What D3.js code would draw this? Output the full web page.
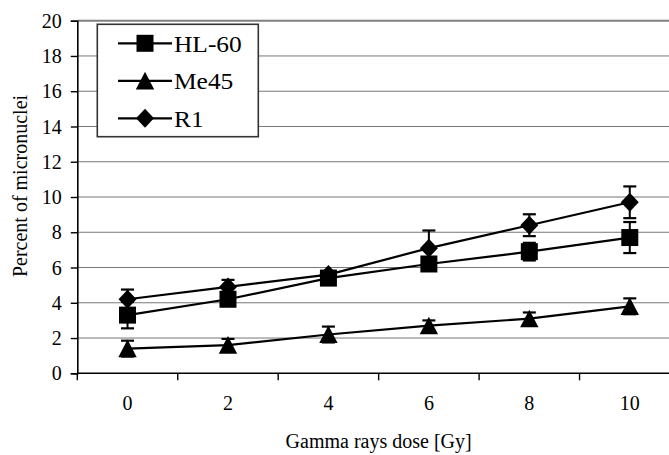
<!DOCTYPE html>
<html>
<head>
<meta charset="utf-8">
<script src="https://cdn.jsdelivr.net/npm/d3@7"></script>
<style>
  html, body { margin: 0; padding: 0; background: #fff; }
  svg text { font-family: "Liberation Serif", "Times New Roman", "DejaVu Serif", serif; }
</style>
</head>
<body>
<svg id="chart" width="669" height="455"></svg>
<script>
// doses on the x axis, one band each
var doses = ["0", "2", "4", "6", "8", "10"];
var yTicks = [0, 2, 4, 6, 8, 10, 12, 14, 16, 18, 20];

// percent of micronuclei
var hl60 = [3.3, 4.2, 5.4, 6.2, 6.9, 7.7];
var hl60Err = [0.75, 0.3, 0.2, 0.2, 0.5, 0.88];
var me45 = [1.4, 1.6, 2.2, 2.7, 3.1, 3.8];
var me45Err = [0.45, 0.35, 0.45, 0.3, 0.35, 0.45];
var r1 = [4.2, 4.9, 5.6, 7.1, 8.4, 9.7];
var r1Err = [0.55, 0.4, 0.2, 1.0, 0.62, 0.9];

var seriesNames = ["HL-60", "Me45", "R1"];

var series = [
  {name: seriesNames[0], vals: hl60, err: hl60Err, shape: "square"},
  {name: seriesNames[1], vals: me45, err: me45Err, shape: "triangle"},
  {name: seriesNames[2], vals: r1, err: r1Err, shape: "diamond"}
];

var FONT = "Liberation Serif, Times New Roman, DejaVu Serif, serif";
var svg = d3.select("#chart");
var plotLeft = 77.3, plotRight = 680, plotTop = 20.7, plotBottom = 373.3;

var x = d3.scaleBand().domain(doses).range([plotLeft, plotRight]).padding(0);
var y = d3.scaleLinear().domain([0, 20]).range([plotBottom, plotTop]);

// marker path for a shape centred on 0,0
function marker(shape) {
  if (shape === "square") return "M-8.5,-8.5H8.5V8.5H-8.5Z";
  if (shape === "triangle") return "M0,-9L9.2,8.6H-9.2Z";
  return "M0,-9.5L9,0L0,9.5L-9,0Z";
}

// gridlines
svg.append("g").selectAll("line.grid")
  .data(yTicks.filter(function(d){ return d > 0 && d < 20; })).enter()
  .append("line").attr("class", "grid")
  .attr("x1", plotLeft).attr("x2", plotRight)
  .attr("y1", function(d){ return y(d); }).attr("y2", function(d){ return y(d); })
  .attr("stroke", "#777").attr("stroke-width", 1);

// top border of the plot
svg.append("line").attr("x1", plotLeft).attr("x2", plotRight)
  .attr("y1", y(20)).attr("y2", y(20))
  .attr("stroke", "#808080").attr("stroke-width", 2);

// y axis
var yAxis = svg.append("g").attr("transform", "translate(" + plotLeft + ",0)")
  .call(d3.axisLeft(y).tickValues(yTicks).tickSize(6.5).tickPadding(9));
yAxis.attr("font-family", FONT);
yAxis.select(".domain").attr("stroke", "#000").attr("stroke-width", 1.6);
yAxis.selectAll(".tick line").attr("stroke", "#000").attr("stroke-width", 1.4);
yAxis.selectAll(".tick text").attr("font-size", 20).attr("font-family", FONT)
  .attr("fill", "#000").attr("dy", "0.33em");

// x axis: line plus ticks on band edges
var xg = svg.append("g");
xg.append("line").attr("x1", plotLeft).attr("x2", plotRight)
  .attr("y1", plotBottom).attr("y2", plotBottom)
  .attr("stroke", "#000").attr("stroke-width", 1.6);
var edges = doses.map(function(d){ return x(d); }).concat([plotRight]);
xg.selectAll("line.xt").data(edges).enter().append("line").attr("class", "xt")
  .attr("x1", function(d){ return d; }).attr("x2", function(d){ return d; })
  .attr("y1", plotBottom).attr("y2", plotBottom + 7)
  .attr("stroke", "#000").attr("stroke-width", 1.4);
xg.selectAll("text").data(doses).enter().append("text")
  .attr("x", function(d){ return x(d) + x.bandwidth() / 2; })
  .attr("y", 410)
  .attr("text-anchor", "middle").attr("font-size", 20).attr("font-family", FONT)
  .text(function(d){ return d; });

// axis titles
svg.append("text").attr("transform", "translate(27,186) rotate(-90)")
  .attr("text-anchor", "middle").attr("font-size", 20).attr("font-family", FONT)
  .text("Percent of micronuclei");
svg.append("text").attr("x", (plotLeft + plotRight) / 2).attr("y", 448)
  .attr("text-anchor", "middle").attr("font-size", 20).attr("font-family", FONT)
  .text("Gamma rays dose [Gy]");

var cx = function(i){ return x(doses[i]) + x.bandwidth() / 2; };
var line = d3.line().x(function(d, i){ return cx(i); }).y(function(d){ return y(d); });

// error bars
series.forEach(function(s) {
  var g = svg.append("g");
  s.vals.forEach(function(v, i) {
    var lo = y(v - s.err[i]), hi = y(v + s.err[i]), px = cx(i);
    g.append("line").attr("x1", px).attr("x2", px).attr("y1", lo).attr("y2", hi)
      .attr("stroke", "#000").attr("stroke-width", 2);
    [lo, hi].forEach(function(yy) {
      g.append("line").attr("x1", px - 6.5).attr("x2", px + 6.5).attr("y1", yy).attr("y2", yy)
        .attr("stroke", "#000").attr("stroke-width", 2.2);
    });
  });
});

// lines and markers
series.forEach(function(s) {
  svg.append("path").datum(s.vals).attr("d", line)
    .attr("fill", "none").attr("stroke", "#000").attr("stroke-width", 2.2);
  svg.append("g").selectAll("path").data(s.vals).enter().append("path")
    .attr("d", marker(s.shape))
    .attr("transform", function(d, i){ return "translate(" + cx(i) + "," + y(d) + ")"; })
    .attr("fill", "#000");
});

// legend
var legend = svg.append("g");
legend.append("rect").attr("x", 97.3).attr("y", 24.3).attr("width", 161).attr("height", 112.4)
  .attr("fill", "#fff").attr("stroke", "#333").attr("stroke-width", 1.6);
series.forEach(function(s, i) {
  var ly = 43.3 + i * 37.5;
  var g = legend.append("g");
  g.append("line").attr("x1", 118).attr("x2", 172).attr("y1", ly).attr("y2", ly)
    .attr("stroke", "#000").attr("stroke-width", 2.2);
  g.append("path").attr("d", marker(s.shape))
    .attr("transform", "translate(145," + ly + ")").attr("fill", "#000");
  g.append("text").attr("transform", "translate(174," + (ly + 8.5) + ") scale(1.06,1)")
    .attr("font-size", 24).attr("font-family", FONT).text(s.name);
});
</script>
</body>
</html>
